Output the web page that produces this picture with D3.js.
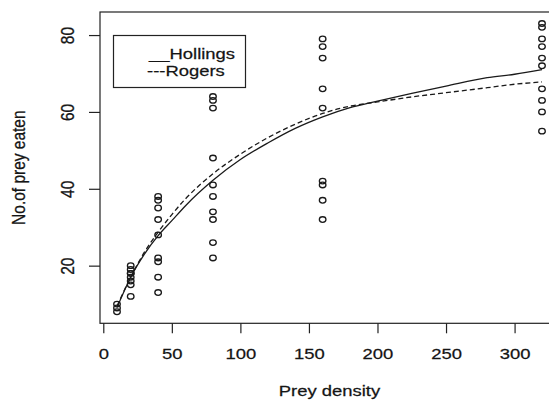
<!DOCTYPE html>
<html>
<head>
<meta charset="utf-8">
<script src="https://cdn.jsdelivr.net/npm/d3@7"></script>
<style>
  body { margin: 0; background: #fff; }
  svg text { font-family: "Liberation Sans", Arial, sans-serif; fill: #151515; stroke: #151515; stroke-width: 0.25px; }
</style>
</head>
<body>
<div id="chart-container"></div>
<script>
// observed feeding data (prey offered -> prey eaten)
const densities = [10, 20, 40, 80, 160, 320];
const eatenAt10 = [8, 9, 10];
const eatenAt20 = [20, 19, 18, 18, 17, 16, 15, 12];
const eatenAt40 = [38, 37, 35, 32, 28, 22, 21, 17, 13];
const eatenAt80 = [64, 63, 61, 48, 41, 38, 34, 32, 26, 22];
const eatenAt160 = [79, 77, 74, 66, 61, 42, 41, 37, 32];
const eatenAt320 = [83, 82, 79, 77, 74, 72, 66, 63, 60, 55];

// fitted curves
const fitDensity = [10, 20, 30, 40, 50, 60, 80, 100, 120, 140, 160, 180, 200, 225, 250, 280, 300, 320];
const hollingsFit = [9.1, 17, 23, 27.8, 31.7, 35.6, 42.2, 47.6, 51.9, 55.7, 58.7, 61.1, 62.8, 64.8, 66.7, 68.9, 69.8, 71.0];
const rogersFit = [9.5, 17, 23.5, 28.7, 33.3, 37.4, 43.9, 49, 53.3, 56.8, 59.6, 61.5, 62.6, 63.9, 65, 66.3, 67.2, 67.8];

const xTicks = [0, 50, 100, 150, 200, 250, 300];
const yTicks = [20, 40, 60, 80];
const legendLabels = ["__Hollings", "---Rogers"];

let width = 549;
let height = 401;
let stretch = 1.19; // the picture is a little wider than tall

let svg = d3
  .select("#chart-container")
  .append("svg")
  .attr("width", width)
  .attr("height", height);

let xScale = d3.scaleLinear().domain([-2.4, 332.4]).range([100, 559]);
let yScale = d3.scaleLinear().domain([5, 86]).range([323.3, 12]);

// plot box (right side runs off the picture)
svg
  .append("rect")
  .attr("x", xScale(-2.4))
  .attr("y", yScale(86))
  .attr("width", xScale(332.4) - xScale(-2.4))
  .attr("height", yScale(5) - yScale(86))
  .attr("fill", "none")
  .attr("stroke", "#222")
  .attr("stroke-width", 1.2);

// X axis
let xAxis = svg
  .append("g")
  .attr("transform", "translate(0," + yScale(5) + ")")
  .call(d3.axisBottom(xScale).tickValues(xTicks).tickSize(10).tickSizeOuter(0));
xAxis.select(".domain").remove();
xAxis.selectAll("line").attr("stroke", "#222").attr("stroke-width", 1.2);
xAxis
  .selectAll("text")
  .attr("y", 0)
  .attr("dy", 0)
  .attr("transform", "translate(0,36) scale(" + stretch + ",1)")
  .style("font-size", "15.5px");

// Y axis
let yAxis = svg
  .append("g")
  .attr("transform", "translate(" + xScale(-2.4) + ",0)")
  .call(d3.axisLeft(yScale).tickValues(yTicks).tickSize(11).tickSizeOuter(0));
yAxis.select(".domain").remove();
yAxis.selectAll("line").attr("stroke", "#222").attr("stroke-width", 1.2);
yAxis
  .selectAll("text")
  .attr("x", 0)
  .attr("y", 0)
  .attr("dy", 0)
  .attr("text-anchor", "middle")
  .attr("transform", "translate(-26.5,0) scale(" + stretch + ",1) rotate(-90)")
  .style("font-size", "15.5px");

// Axis titles
svg
  .append("text")
  .attr("text-anchor", "middle")
  .attr("transform", "translate(" + (xScale(-2.4) + xScale(332.4)) / 2 + ",396) scale(" + stretch + ",1)")
  .style("font-size", "15.5px")
  .text("Prey density");

svg
  .append("text")
  .attr("text-anchor", "middle")
  .attr("transform", "translate(25," + (yScale(5) + yScale(86)) / 2 + ") scale(" + stretch + ",1) rotate(-90)")
  .style("font-size", "15.5px")
  .text("No.of prey eaten");

// points
let groups = [eatenAt10, eatenAt20, eatenAt40, eatenAt80, eatenAt160, eatenAt320];
let points = [];
densities.forEach((d, i) => groups[i].forEach((v) => points.push({ x: d, y: v })));

svg
  .append("g")
  .selectAll(".dot")
  .data(points)
  .enter()
  .append("ellipse")
  .attr("class", "dot")
  .attr("cx", (d) => xScale(d.x))
  .attr("cy", (d) => yScale(d.y))
  .attr("rx", 3.3)
  .attr("ry", 2.8)
  .attr("fill", "none")
  .attr("stroke", "#1a1a1a")
  .attr("stroke-width", 1.3);

// fitted curves
let line = d3
  .line()
  .x((d) => xScale(d[0]))
  .y((d) => yScale(d[1]))
  .curve(d3.curveMonotoneX);

svg
  .append("path")
  .datum(fitDensity.map((d, i) => [d, hollingsFit[i]]))
  .attr("d", line)
  .attr("fill", "none")
  .attr("stroke", "#1a1a1a")
  .attr("stroke-width", 1.3);

svg
  .append("path")
  .datum(fitDensity.map((d, i) => [d, rogersFit[i]]))
  .attr("d", line)
  .attr("fill", "none")
  .attr("stroke", "#1a1a1a")
  .attr("stroke-width", 1.3)
  .attr("stroke-dasharray", "5,3");

// legend
svg
  .append("rect")
  .attr("x", 113.5)
  .attr("y", 35.5)
  .attr("width", 132)
  .attr("height", 52)
  .attr("fill", "#fff")
  .attr("stroke", "#222")
  .attr("stroke-width", 1.2);

svg
  .selectAll(".legend-label")
  .data(legendLabels)
  .enter()
  .append("text")
  .attr("class", "legend-label")
  .attr("transform", (d, i) => "translate(" + (i === 0 ? 149 : 147) + "," + (59 + i * 17) + ") scale(" + stretch + ",1)")
  .style("font-size", "15.5px")
  .text((d) => d);
</script>
</body>
</html>
